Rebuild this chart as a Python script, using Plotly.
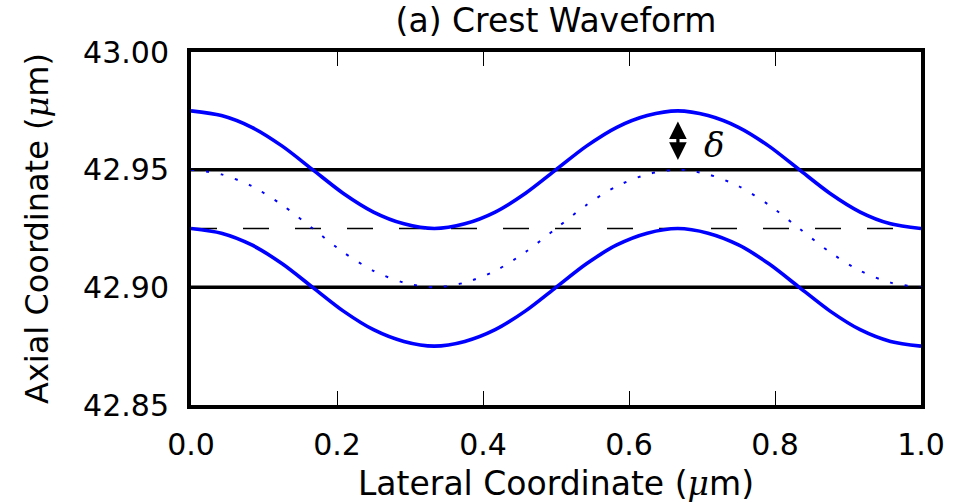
import plotly.graph_objects as go

# Lateral sample positions (um), one every 1/24 um
lateral = [0.0, 0.0417, 0.0833, 0.125, 0.1667, 0.2083, 0.25, 0.2917, 0.3333,
           0.375, 0.4167, 0.4583, 0.5, 0.5417, 0.5833, 0.625, 0.6667, 0.7083,
           0.75, 0.7917, 0.8333, 0.875, 0.9167, 0.9583, 1.0]

# Upper crest surface (um)
upper_crest = [42.975, 42.973, 42.968, 42.960, 42.950, 42.940, 42.932, 42.927, 42.925,
               42.927, 42.932, 42.940, 42.950, 42.960, 42.968, 42.973, 42.975,
               42.973, 42.968, 42.960, 42.950, 42.940, 42.932, 42.927, 42.925]

# Lower crest surface (um)
lower_crest = [42.925, 42.923, 42.918, 42.910, 42.900, 42.890, 42.882, 42.877, 42.875,
               42.877, 42.882, 42.890, 42.900, 42.910, 42.918, 42.923, 42.925,
               42.923, 42.918, 42.910, 42.900, 42.890, 42.882, 42.877, 42.875]

# Mid-plane waveform (um)
mid_wave = [42.950, 42.948, 42.943, 42.935, 42.925, 42.915, 42.907, 42.902, 42.900,
            42.902, 42.907, 42.915, 42.925, 42.935, 42.943, 42.948, 42.950,
            42.948, 42.943, 42.935, 42.925, 42.915, 42.907, 42.902, 42.900]

# Flat reference boundaries and centre plane
flat_levels = [42.95, 42.90]
centre_level = 42.925
line_extent = [0.0, 1.0]

# Amplitude marker
delta_x = 0.667
delta_y = [42.9535, 42.9705]
delta_label_pos = (0.700, 42.9605)

x_ticks = [0.0, 0.2, 0.4, 0.6, 0.8, 1.0]
x_tick_text = ["0.0", "0.2", "0.4", "0.6", "0.8", "1.0"]
y_ticks = [42.85, 42.90, 42.95, 43.00]
y_tick_text = ["42.85", "42.90", "42.95", "43.00"]

BLUE = "#0000ff"
FONT = "DejaVu Sans"
MU = "<span style=\"font-family:'DejaVu Serif';font-style:italic\">\u03bc</span>"

fig = go.Figure()

for lvl in flat_levels:
    fig.add_trace(go.Scatter(x=line_extent, y=[lvl, lvl], mode="lines",
                             line=dict(color="black", width=3.5), hoverinfo="skip"))

fig.add_trace(go.Scatter(x=line_extent, y=[centre_level, centre_level], mode="lines",
                         line=dict(color="black", width=1.4, dash="26px,26px"),
                         hoverinfo="skip"))

fig.add_trace(go.Scatter(x=lateral, y=mid_wave, mode="lines",
                         line=dict(color=BLUE, width=2, dash="3px,12px",
                                   shape="spline", smoothing=0.8)))
fig.add_trace(go.Scatter(x=lateral, y=upper_crest, mode="lines",
                         line=dict(color=BLUE, width=3.6, shape="spline", smoothing=0.8)))
fig.add_trace(go.Scatter(x=lateral, y=lower_crest, mode="lines",
                         line=dict(color=BLUE, width=3.6, shape="spline", smoothing=0.8)))

# Double-headed arrow marking the amplitude delta
fig.add_annotation(x=delta_x, y=delta_y[1], ax=delta_x, ay=delta_y[0],
                   xref="x", yref="y", axref="x", ayref="y",
                   showarrow=True, arrowside="end+start", arrowhead=2,
                   arrowsize=1.1, arrowwidth=3.2, arrowcolor="black", text="")
fig.add_annotation(x=delta_label_pos[0], y=delta_label_pos[1], xref="x", yref="y",
                   text="\u03b4", showarrow=False, xanchor="left", yanchor="middle",
                   font=dict(family="DejaVu Serif", size=34, color="black", style="italic"))

axis_common = dict(showline=True, linecolor="black", linewidth=4, mirror="allticks",
                   ticks="inside", ticklen=14, tickwidth=1.4, tickcolor="black",
                   showgrid=False, zeroline=False, automargin=False,
                   tickfont=dict(family=FONT, size=30, color="black"))

fig.update_xaxes(range=[0, 1], tickvals=x_ticks, ticktext=x_tick_text,
                 ticklabelstandoff=10,
                 title=dict(text=f"Lateral Coordinate ({MU}m)", standoff=18,
                            font=dict(family=FONT, size=33, color="black")),
                 **axis_common)
fig.update_yaxes(range=[42.85, 43.00], tickvals=y_ticks, ticktext=y_tick_text,
                 ticklabelstandoff=12,
                 title=dict(text=f"Axial Coordinate ({MU}m)", standoff=26,
                            font=dict(family=FONT, size=32, color="black")),
                 **axis_common)

fig.update_layout(
    width=965, height=503,
    margin=dict(l=191, r=44, t=52, b=98, autoexpand=False),
    paper_bgcolor="white", plot_bgcolor="white",
    showlegend=False,
    title=dict(text="(a) Crest Waveform", x=0.5, xref="paper", xanchor="center",
               y=1 - 20 / 503, yref="container", yanchor="middle",
               font=dict(family=FONT, size=33, color="black")),
)

fig.write_html("out.html")
